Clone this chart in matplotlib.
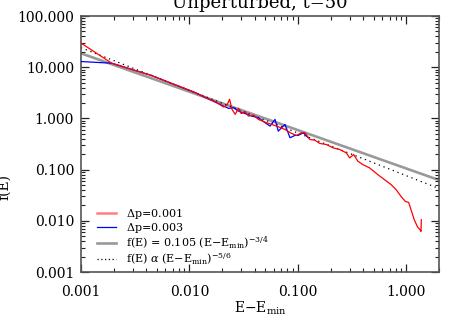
import numpy as np
import matplotlib
matplotlib.use("Agg")
import matplotlib.pyplot as plt
from matplotlib.ticker import LogLocator, FormatStrFormatter, NullFormatter
from matplotlib.lines import Line2D

plt.rcParams['font.family'] = ['DejaVu Serif']
plt.rcParams['mathtext.fontset'] = 'dejavuserif'

# ---- data ----
red_x = [0.001, 0.00192, 0.00439, 0.01135, 0.01403, 0.01734, 0.02065, 0.02218,
         0.02344, 0.02466, 0.02642, 0.02831, 0.03, 0.03266, 0.035, 0.0389,
         0.04325, 0.04977, 0.05741, 0.06592, 0.07603, 0.0875, 0.09727, 0.1081,
         0.1159, 0.1288, 0.1432, 0.1592, 0.1832, 0.2109, 0.2427, 0.2799, 0.2999,
         0.3266, 0.3573, 0.3972, 0.4581, 0.5458, 0.6281, 0.7244, 0.8054, 0.8933,
         0.9795, 1.0495, 1.104, 1.183, 1.271, 1.337, 1.365, 1.374]
red_y = [29.6, 11.97, 6.97, 3.19, 2.55, 2.12, 1.67, 1.82,
         2.36, 1.50, 1.20, 1.57, 1.24, 1.35, 1.11, 1.16,
         0.955, 0.845, 0.762, 0.687, 0.608, 0.508, 0.465, 0.525,
         0.525, 0.387, 0.376, 0.324, 0.309, 0.266, 0.247, 0.212, 0.169,
         0.197, 0.146, 0.125, 0.108, 0.0798, 0.0637, 0.0508, 0.0406, 0.0299,
         0.0239, 0.0229, 0.0164, 0.0105, 0.0075, 0.0067, 0.0062, 0.0105]

blue_x = [0.001, 0.00192, 0.00439, 0.01135, 0.02065, 0.02296, 0.02548, 0.02831,
          0.03266, 0.03758, 0.04325, 0.04977, 0.05534, 0.06152, 0.06592,
          0.07603, 0.08453, 0.09379, 0.1007, 0.1119, 0.1202, 0.1236]
blue_y = [12.9, 11.97, 6.97, 3.17, 1.74, 1.57, 1.62, 1.39,
          1.24, 1.11, 1.03, 0.824, 0.707, 0.955, 0.564,
          0.762, 0.419, 0.465, 0.465, 0.525, 0.450, 0.424]

fit_coef = 0.105
fit_exp = -3.0 / 4.0
prop_coef = 0.076
prop_exp = -5.0 / 6.0

x_range = [0.001, 2.0]
y_range = [0.001, 100.0]

labels = [r'$\Delta$p=0.001', r'$\Delta$p=0.003',
          r'f(E) = 0.105 (E$-$E$_{\rm min}$)$^{-3/4}$',
          r'f(E) $\alpha$ (E$-$E$_{\rm min}$)$^{-5/6}$']

# ---- figure ----
fig = plt.figure(figsize=(4.63, 3.31), dpi=100)
ax = fig.add_axes([81/463, 1-272/331, (439-81)/463, (272-16)/331])

xx = np.logspace(np.log10(x_range[0]), np.log10(x_range[1]), 200)
ax.plot(xx, fit_coef * xx**fit_exp, color='#999999', lw=1.9, zorder=1)
ax.plot(xx, prop_coef * xx**prop_exp, color='black', lw=0.9,
        linestyle=(0, (1, 3)), zorder=2)
ax.plot(blue_x, blue_y, color='blue', lw=0.9, zorder=3)
ax.plot(red_x, red_y, color='red', lw=0.9, zorder=4)

ax.set_xscale('log')
ax.set_yscale('log')
ax.set_xlim(*x_range)
ax.set_ylim(*y_range)

for a in (ax.xaxis, ax.yaxis):
    a.set_major_locator(LogLocator(base=10, numticks=10))
    a.set_minor_locator(LogLocator(base=10, subs=np.arange(2, 10), numticks=20))
    a.set_major_formatter(FormatStrFormatter('%.3f'))
    a.set_minor_formatter(NullFormatter())

ax.tick_params(which='both', direction='in', top=True, right=True, color='#222222')
ax.tick_params(which='major', length=6, width=0.9, labelsize=10)
ax.tick_params(which='minor', length=3, width=0.8)
ax.tick_params(axis='x', which='major', pad=9)
ax.tick_params(axis='y', which='major', pad=5)
for s in ax.spines.values():
    s.set_color('#555555')
    s.set_linewidth(1.2)

handles = [Line2D([], [], color='#ff7f7f', lw=1.8),
           Line2D([], [], color='blue', lw=0.9),
           Line2D([], [], color='#999999', lw=1.9),
           Line2D([], [], color='black', lw=0.9, linestyle=(0, (1, 2)))]
leg = ax.legend(handles, labels, loc='lower left', frameon=False,
                bbox_to_anchor=(0.045, 0.02), borderaxespad=0.0, borderpad=0.0,
                handlelength=1.7, handletextpad=0.9, labelspacing=0.02,
                fontsize=8)

fig.text(260/463, 1-8/331, 'Unperturbed, t=50', ha='center', va='baseline', fontsize=13)
fig.text(260/463, 1-313/331, r'E$-$E$_{\rm min}$', ha='center', va='baseline', fontsize=10)
fig.text(4/463, 144/331, 'f(E)', rotation=90, ha='center', va='center', fontsize=10)

fig.savefig('out.png', dpi=100)
